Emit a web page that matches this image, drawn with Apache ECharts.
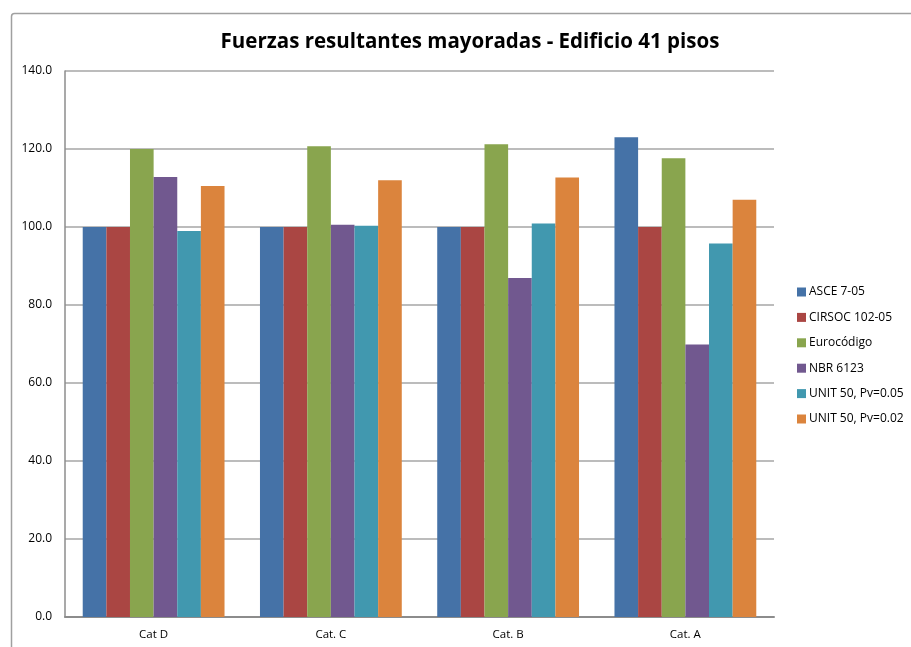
<!DOCTYPE html>
<html>
<head>
<meta charset="utf-8">
<script src="https://cdn.jsdelivr.net/npm/echarts@6/dist/echarts.min.js"></script>
<style>
  html, body { margin: 0; padding: 0; background: #fff; }
  #chart { width: 911px; height: 647px; }
</style>
</head>
<body>
<div id="chart"></div>
<script>
// Categories along the x axis
const categories = ['Cat D', 'Cat. C', 'Cat. B', 'Cat. A'];

// Design forces per code, one array per series
const asce = [100.0, 100.0, 100.0, 123.0];
const cirsoc = [100.0, 100.0, 100.0, 100.0];
const eurocodigo = [120.0, 120.7, 121.2, 117.6];
const nbr = [112.8, 100.6, 86.9, 69.9];
const unitPv005 = [99.0, 100.3, 100.9, 95.8];
const unitPv002 = [110.5, 112.0, 112.7, 107.0];

const seriesNames = ['ASCE 7-05', 'CIRSOC 102-05', 'Eurocódigo', 'NBR 6123', 'UNIT 50, Pv=0.05', 'UNIT 50, Pv=0.02'];
const seriesData = [asce, cirsoc, eurocodigo, nbr, unitPv005, unitPv002];
const colors = ['#4572A7', '#AA4643', '#89A54E', '#71588F', '#4198AF', '#DB843D'];

const font = 'Open Sans, Noto Sans, sans-serif';

const chart = echarts.init(document.getElementById('chart'), null, { renderer: 'canvas' });

chart.setOption({
  animation: false,
  backgroundColor: '#ffffff',
  color: colors,
  title: {
    text: 'Fuerzas resultantes mayoradas - Edificio 41 pisos',
    left: 465,
    top: 27,
    textAlign: 'center',
    textStyle: { fontFamily: font, fontSize: 20.5, fontWeight: 'bold', color: '#000' }
  },
  legend: {
    orient: 'vertical',
    left: 792,
    top: 281,
    itemWidth: 9,
    itemHeight: 9,
    itemGap: 13.4,
    icon: 'rect',
    textStyle: { fontFamily: font, fontSize: 12, color: '#000', padding: [0, 0, 0, -2] },
    data: seriesNames
  },
  grid: { left: 65, top: 71, width: 709, height: 546, containLabel: false },
  xAxis: {
    type: 'category',
    data: categories,
    axisLine: { lineStyle: { color: '#8c8c8c', width: 2 } },
    axisTick: { show: false },
    axisLabel: { fontFamily: font, fontSize: 11.5, color: '#000', margin: 12 },
    splitLine: { show: false }
  },
  yAxis: {
    type: 'value',
    min: 0,
    max: 140,
    interval: 20,
    axisLine: { show: true, lineStyle: { color: '#8c8c8c', width: 1.5 } },
    axisTick: { show: false },
    axisLabel: {
      fontFamily: font, fontSize: 12, color: '#000', margin: 13,
      formatter: v => v.toFixed(1)
    },
    splitLine: { lineStyle: { color: '#a6a6a6', width: 1.5 } }
  },
  series: seriesNames.map((name, i) => ({
    name,
    type: 'bar',
    data: seriesData[i],
    barGap: '0%',
    barCategoryGap: '20%',
    itemStyle: { color: colors[i] }
  })),
  graphic: [{
    type: 'rect',
    left: 9,
    top: 11,
    shape: { width: 940, height: 680, r: 3 },
    style: { fill: 'none', stroke: '#a0a0a0', lineWidth: 1.5 },
    silent: true
  }]
});
</script>
</body>
</html>
